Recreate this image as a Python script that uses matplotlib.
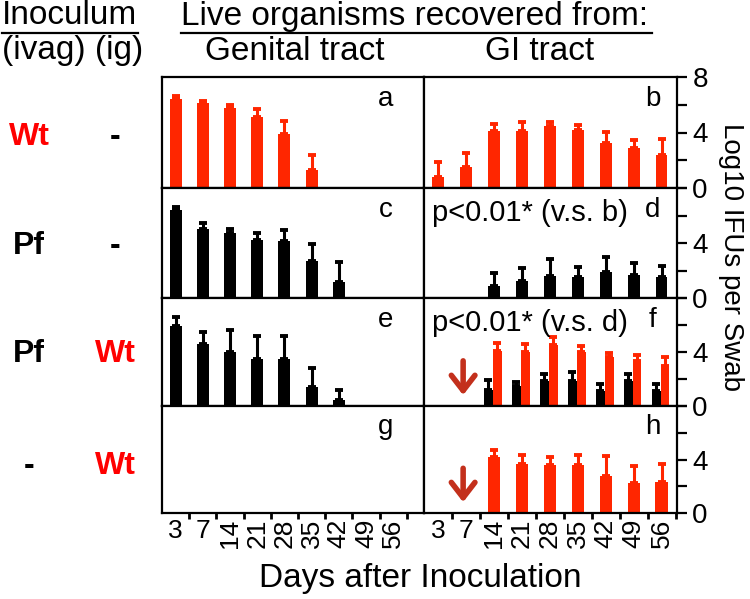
import numpy as np
import matplotlib
matplotlib.use('Agg')
import matplotlib.pyplot as plt
from matplotlib.lines import Line2D

plt.rcParams['font.family'] = 'Liberation Sans'

# days after inoculation
days = [3, 7, 14, 21, 28, 35, 42, 49, 56]

# genital tract (log10 IFUs), mean and upper error
a_mean = [6.4, 6.1, 5.75, 5.1, 3.9, 1.3, 0.05, 0.05, 0.05]
a_err = [0.25, 0.2, 0.25, 0.6, 0.95, 1.1, 0, 0, 0]
c_mean = [6.4, 5.0, 4.75, 4.2, 4.15, 2.7, 1.15, 0, 0]
c_err = [0.25, 0.45, 0.3, 0.5, 0.8, 1.2, 1.5, 0, 0]
e_mean = [5.9, 4.6, 4.0, 3.5, 3.45, 1.4, 0.45, 0, 0]
e_err = [0.7, 0.85, 1.65, 1.7, 1.75, 1.4, 0.75, 0, 0]

# GI tract
b_mean = [0.8, 1.5, 4.1, 4.1, 4.5, 4.2, 3.25, 2.9, 2.4]
b_err = [1.05, 1.05, 0.5, 0.65, 0.25, 0.35, 0.8, 0.55, 1.1]
d_mean = [0, 0, 0.85, 1.25, 1.6, 1.55, 1.9, 1.7, 1.5]
d_err = [0, 0, 0.95, 0.95, 1.25, 0.7, 1.1, 0.85, 0.85]
f_red = [0.05, 0.05, 4.1, 4.0, 4.5, 4.0, 3.65, 3.3, 3.0]
f_red_err = [0, 0, 0.6, 0.6, 0.6, 0.45, 0.3, 0.45, 0.65]
f_black = [0, 0, 1.15, 1.45, 1.85, 1.85, 1.1, 1.85, 1.1]
f_black_err = [0, 0, 0.8, 0.35, 0.5, 0.7, 0.5, 0.55, 0.55]
h_mean = [0, 0, 4.2, 3.65, 3.6, 3.6, 2.8, 2.25, 2.35]
h_err = [0, 0, 0.5, 0.65, 0.55, 0.75, 1.45, 1.25, 1.35]

RED = '#ff2600'
TEXT_RED = '#ff0000'
BLACK = '#000000'
ARROW = '#c3301c'

W, H = 750, 599
fig = plt.figure(figsize=(7.5, 5.99), dpi=100)


def fx(x):
    return x / W


def fy(y):
    return 1 - y / H


def add_ax(x0, y0, x1, y1):
    return fig.add_axes([fx(x0), fy(y1), fx(x1 - x0), (y1 - y0) / H])


rows = [(77, 188), (188, 298), (298, 406), (406, 513)]
left = [add_ax(162, r0, 424, r1) for r0, r1 in rows]
right = [add_ax(424, r0, 677, r1) for r0, r1 in rows]

x = np.arange(len(days))


def bars(ax, xpos, mean, err, color, width):
    ax.bar(xpos, mean, width, color=color, zorder=2)
    err = np.array(err)
    m = err > 0
    if m.any():
        ax.errorbar(np.array(xpos)[m], np.array(mean)[m],
                    yerr=[np.zeros(m.sum()), err[m]], fmt='none',
                    ecolor=color, elinewidth=2.2, capsize=3.2, capthick=2.8, zorder=3)


bars(left[0], x, a_mean, a_err, RED, 0.44)
bars(left[1], x, c_mean, c_err, BLACK, 0.44)
bars(left[2], x, e_mean, e_err, BLACK, 0.44)

bars(right[0], x, b_mean, b_err, RED, 0.42)
bars(right[1], x, d_mean, d_err, BLACK, 0.42)
bars(right[2], x - 0.2, f_black, f_black_err, BLACK, 0.32)
bars(right[2], x + 0.12, f_red, f_red_err, RED, 0.32)
bars(right[3], x, h_mean, h_err, RED, 0.44)

for ax in right[2:]:
    ax.annotate('', xy=(0.9, 0.6), xytext=(0.9, 3.55),
                arrowprops=dict(arrowstyle='->,head_width=0.85,head_length=1.1',
                                color=ARROW, lw=4))

for ax, t in zip(left, ['a', 'c', 'e', 'g']):
    ax.text(0.855, 0.8, t, transform=ax.transAxes, ha='center', va='center', fontsize=20)
for ax, t in zip(right, ['b', 'd', 'f', 'h']):
    ax.text(0.905, 0.8, t, transform=ax.transAxes, ha='center', va='center', fontsize=20)

right[1].text(0.03, 0.77, 'p<0.01* (v.s. b)', transform=right[1].transAxes,
              ha='left', va='center', fontsize=21)
right[2].text(0.03, 0.77, 'p<0.01* (v.s. d)', transform=right[2].transAxes,
              ha='left', va='center', fontsize=21)

for ax in left + right:
    ax.set_ylim(0, 8)
    for s in ax.spines.values():
        s.set_linewidth(1.6)
    ax.set_xticks(x)
    ax.set_xticks(x + 0.5, minor=True)
    ax.tick_params(axis='x', which='major', length=0, pad=4, labelsize=19)
    ax.tick_params(axis='x', which='minor', length=4, width=2, direction='out')

for ax in left:
    ax.set_xlim(-0.5, 9.13)
    ax.set_yticks([])
for ax in right:
    ax.set_xlim(-0.5, 8.55)
    ax.yaxis.tick_right()
    ax.set_yticks([0, 2, 4, 6, 8])
    ax.tick_params(axis='y', length=7, width=1.6, direction='out', pad=4, labelsize=20)
right[0].set_yticklabels(['0', '', '4', '', '8'])
for ax in right[1:]:
    ax.set_yticklabels(['0', '', '4', '', ''])

for ax in left[:3] + right[:3]:
    ax.set_xticklabels([])
for ax in (left[3], right[3]):
    ax.set_xticklabels([str(d) for d in days])
    for lab in ax.get_xticklabels():
        if len(lab.get_text()) > 1:
            lab.set_rotation(90)

# header
fig.text(fx(2), fy(16), 'Inoculum', ha='left', va='center', fontsize=24)
fig.text(fx(2), fy(51), '(ivag) (ig)', ha='left', va='center', fontsize=24)
fig.text(fx(181), fy(16), 'Live organisms recovered from:', ha='left', va='center', fontsize=24)
fig.text(fx(295), fy(51), 'Genital tract', ha='center', va='center', fontsize=24)
fig.text(fx(540), fy(51), 'GI tract', ha='center', va='center', fontsize=24)
fig.add_artist(Line2D([fx(2), fx(138)], [fy(33), fy(33)], color='black', lw=1.6))
fig.add_artist(Line2D([fx(181), fx(652)], [fy(33), fy(33)], color='black', lw=1.6))

# row labels
row_labels = [('Wt', TEXT_RED, '-', BLACK), ('Pf', BLACK, '-', BLACK),
              ('Pf', BLACK, 'Wt', TEXT_RED), ('-', BLACK, 'Wt', TEXT_RED)]
row_y = [137, 246, 354, 466]
for (l1, c1, l2, c2), yy in zip(row_labels, row_y):
    fig.text(fx(29), fy(yy), l1, ha='center', va='center', fontsize=23,
             fontweight='bold', color=c1)
    fig.text(fx(115), fy(yy), l2, ha='center', va='center', fontsize=23,
             fontweight='bold', color=c2)

fig.text(fx(420), fy(578), 'Days after Inoculation', ha='center', va='center', fontsize=24)
fig.text(fx(731), fy(257), 'Log10 IFUs per Swab', ha='center', va='center',
         rotation=270, fontsize=20)

fig.savefig('out.png', dpi=100)
